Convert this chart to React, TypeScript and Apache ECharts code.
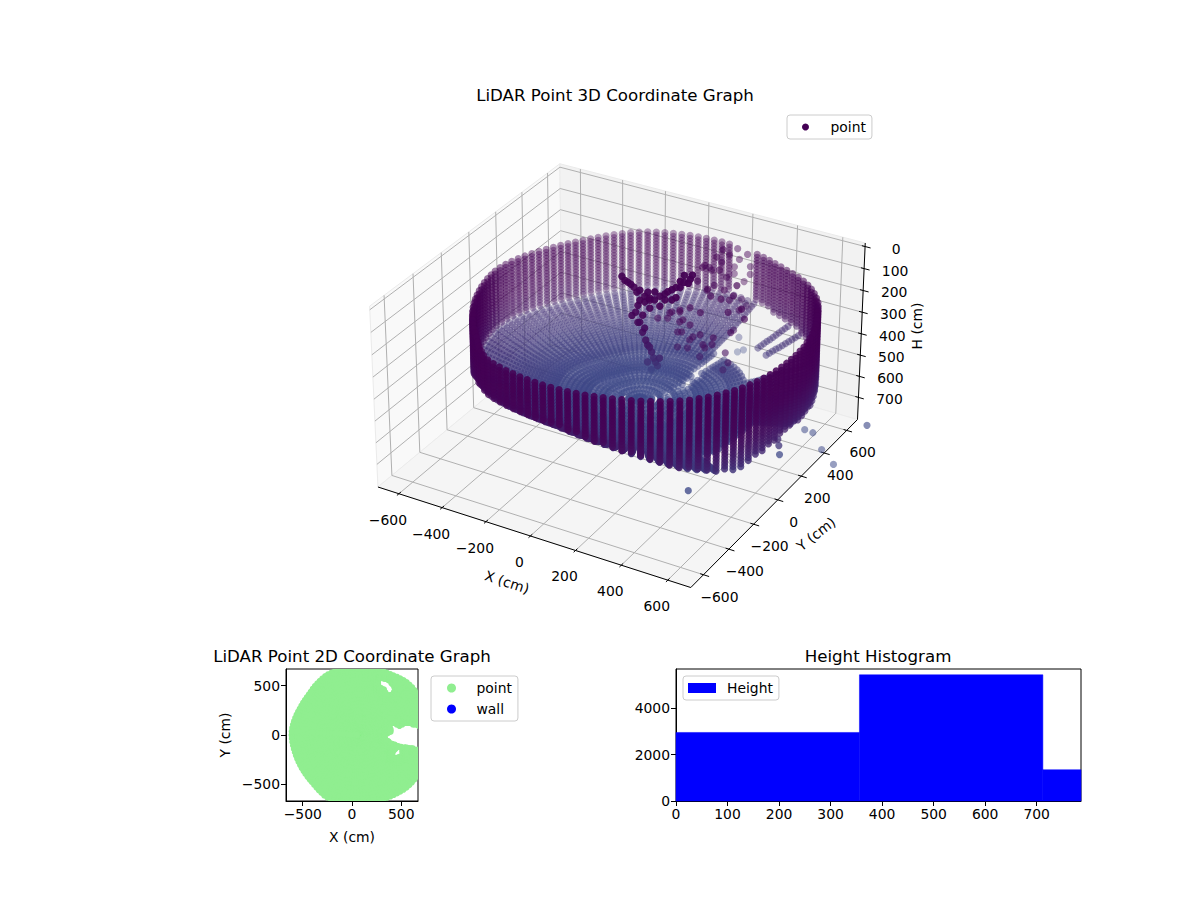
import { useEffect, useRef } from "react"
import * as echarts from "echarts"

const FONT = "DejaVu Sans"

const axisTicks3D = [-600, -400, -200, 0, 200, 400, 600]
const heightTicks = [0, 100, 200, 300, 400, 500, 600, 700]
const ticks2D = [-500, 0, 500]
const histXTicks = [0, 100, 200, 300, 400, 500, 600, 700]
const histYTicks = [0, 2000, 4000]

// histogram bins
const binStart = [0, 356, 712]
const binEnd = [356, 712, 786]
const binCount = [2950, 5430, 1345]

const columnAzimuth = [
  -180, -177, -174, -171, -168, -165, -162, -159, -156, -153,
  -150, -147, -144, -141, -138, -135, -132, -129, -126, -123,
  -120, -117, -114, -111, -108, -105, -102, -99, -96, -93,
  -90, -87, -84, -81, -78, -75, -72, -69, -66, -63,
  -60, -57, -54, -51, -48, -45, -42, -39, -36, -33,
  -30, -27, -24, -21, -18, -15, -12, -9, -6, -3,
  0, 3, 6, 9, 12, 15, 18, 21, 24, 27,
  30, 33, 36, 39, 42, 45, 48, 51, 54, 57,
  60, 63, 66, 69, 72, 75, 78, 81, 84, 87,
  90, 93, 96, 99, 102, 105, 108, 111, 114, 117,
  120, 123, 126, 129, 132, 135, 138, 141, 144, 147,
  150, 153, 156, 159, 162, 165, 168, 171, 174, 177,
]
const columnRadius = [
  686, 684, 682, 680, 678, 676, 675, 674, 673, 673,
  673, 673, 674, 675, 676, 678, 682, 688, 695, 702,
  710, 713, 711, 708, 705, 702, 700, 698, 696, 695,
  694, 693, 693, 693, 693, 693, 694, 696, 698, 701,
  704, 708, 712, 716, 719, 721, 722, 722, 722, 722,
  722, 720, 718, 716, 714, 712, 710, 708, 706, 705,
  705, 705, 706, 706, 707, 708, 709, 710, 711, 712,
  716, 720, 724, 725, 725, 724, 722, 718, 712, 706,
  700, 696, 693, 693, 693, 693, 693, 693, 693, 693,
  693, 693, 693, 693, 693, 693, 693, 693, 693, 693,
  690, 685, 680, 675, 670, 665, 660, 657, 656, 656,
  657, 658, 660, 664, 668, 672, 676, 680, 683, 685,
]
const columnBottom = [
  390, 390, 392, 392, 392, 392, 394, 394, 392, 392,
  392, 385, 375, 362, 350, 338, 325, 315, 305, 295,
  287, 286, 285, 284, 284, 284, 284, 285, 286, 288,
  290, 296, 303, 310, 318, 326, 335, 345, 355, 365,
  376, 388, 400, 412, 425, 437, 448, 458, 468, 476,
  484, 482, 475, 465, 456, 448, 440, 436, 434, 434,
  436, 438, 440, 444, 448, 452, 456, 460, 464, 468,
  470, 460, 445, 425, 405, 390, 380, 372, 366, 362,
  360, 358, 355, 352, 350, 347, 345, 344, 344, 350,
  356, 362, 368, 374, 380, 384, 386, 388, 390, 390,
  390, 390, 390, 390, 390, 390, 390, 390, 390, 390,
  390, 390, 390, 390, 390, 390, 390, 390, 390, 390,
]
const missingColumns = [78, 81, 84]

const wallLevels = [130, 144, 158, 172, 186, 200, 214, 228, 242, 256, 270, 284, 298, 312, 326, 340, 354, 368, 382, 396, 410, 424, 438, 452, 466, 480, 494]

const floorCenterH = 530
const ringFraction = [0.03, 0.07, 0.12, 0.16, 0.2, 0.23, 0.26, 0.29, 0.32, 0.35, 0.38, 0.41, 0.44, 0.47, 0.5, 0.52, 0.54, 0.56, 0.58, 0.6, 0.62, 0.64, 0.66, 0.68, 0.7, 0.72, 0.74, 0.76, 0.78, 0.8, 0.82, 0.84, 0.86, 0.88, 0.9, 0.92, 0.94, 0.96, 0.98]
const ringRise = [0, 0, 0.01, 0.02, 0.03, 0.04, 0.05, 0.06, 0.07, 0.09, 0.1, 0.12, 0.14, 0.16, 0.19, 0.21, 0.23, 0.25, 0.27, 0.3, 0.33, 0.35, 0.38, 0.41, 0.44, 0.47, 0.5, 0.54, 0.57, 0.61, 0.65, 0.69, 0.72, 0.76, 0.8, 0.84, 0.88, 0.92, 0.96]
const ringColumnStep = [8, 5, 3, 3, 2, 2, 2, 2, 1, 1, 1, 1, 1, 1, 1, 1, 1, 1, 1, 1, 1, 1, 1, 1, 1, 1, 1, 1, 1, 1, 1, 1, 1, 1, 1, 1, 1, 1, 1]

// floor sectors without returns: azimuth from, azimuth to, radius from, radius to
const floorGaps = [
  [40, 48, 0.62, 1],
  [51, 51, 0.62, 0.76],
  [54, 54, 0.62, 1],
  [57, 57, 0.62, 0.76],
  [60, 72, 0.62, 1],
  [45, 45, 0.15, 0.24],
  [54, 57, 0.22, 0.32],
  [60, 63, 0.3, 0.42],
  [66, 69, 0.4, 0.62],
  [-33, -3, 0.75, 1],
]

// the object standing in the room [x, y, H]
const treePoints = [
  [-116, 200, 122], [-89, 200, 141], [-61, 200, 156], [-34, 200, 162], [-12, 200, 183], [-34, 200, 208],
  [11, 200, 186], [56, 200, 164], [92, 200, 134], [128, 200, 105], [164, 200, 72], [191, 200, 50],
  [164, 200, 40], [128, 200, 151], [79, 200, 175], [11, 200, 232], [-21, 200, 273], [-53, 200, 268],
  [-34, 200, 309], [-12, 200, 330], [-7, 200, 384], [2, 200, 404], [20, 200, 431], [38, 200, 472],
  [20, 200, 514], [56, 200, 449],
  [-102, 200, 136], [-75, 200, 147], [-48, 200, 175], [-12, 200, 210], [33, 200, 188], [33, 200, 151],
  [2, 200, 161], [79, 200, 148], [110, 200, 120], [146, 200, 100], [182, 200, 71], [200, 200, 29],
  [146, 200, 72], [110, 200, 166], [56, 200, 210], [11, 200, 195], [-43, 200, 234], [-70, 200, 288],
  [-43, 200, 312], [-21, 200, 351], [11, 200, 411], [29, 200, 456], [2, 200, 483], [47, 200, 487],
]
const clutterPoints = [
  [110, 200, 221], [146, 200, 210], [191, 200, 179], [237, 200, 289], [191, 200, 326], [146, 200, 256],
  [92, 200, 254], [155, 200, 299], [259, 200, 343], [291, 200, 319],
  [145, 400, 95], [176, 400, 109], [221, 400, 60], [190, 400, 174], [235, 400, 184], [258, 400, 223],
  [158, 400, 206], [303, 400, 256], [280, 400, 355],
  [186, 600, 102], [231, 600, 116], [245, 600, 168], [245, 600, 204], [218, 600, 245], [173, 600, 189],
  [173, 600, 221], [150, 600, 140], [195, 600, 149], [209, 600, 330], [231, 600, 355], [200, 600, 511],
  [195, 600, 582], [222, 600, 564],
  [47, 200, 267], [101, 200, 228], [146, 200, 201], [160, 200, 243], [192, 200, 257], [237, 200, 188],
  [137, 200, 305], [205, 200, 308], [250, 200, 331], [296, 200, 286], [372, 200, 240], [359, 200, 152],
  [327, 200, 102], [381, 200, 72], [282, 200, 101], [268, 200, 73], [223, 200, 49], [136, 400, 108],
  [167, 400, 99], [212, 400, 98], [244, 400, 122], [199, 400, 43], [226, 400, 2], [182, 200, 365],
  [137, 200, 374], [350, 200, 339], [363, 200, 381], [341, 200, 420], [237, 200, 390], [418, 200, 121],
  [431, 200, 163], [395, 200, 22],
]
const strayPoints = [
  [520, -400, 597], [657, 300, 655], [693, 300, 658], [734, 300, 724], [788, 300, 777], [925, 300, 552],
  [746, -100, 485], [750, -100, 525], [741, -100, 458],
]

// top view
const scanCenterX = 72
const footprintFraction = [0.03, 0.08, 0.13, 0.18, 0.23, 0.28, 0.33, 0.38, 0.43, 0.48, 0.53, 0.58, 0.63, 0.68, 0.73, 0.78, 0.83, 0.88, 0.93, 0.97, 1]
const footprintHoles = [
  [[362, -17], [430, 0], [420, 91], [481, 51], [565, 91], [690, 51], [690, -119], [616, -102], [481, -85], [379, -34]],
  [[295, 542], [362, 525], [402, 457], [379, 434], [345, 491], [305, 508]],
  [[474, -152], [481, -186], [440, -203], [447, -180]],
]
const DOT_RADIUS_CM = 30
const HOLE_MARGIN_CM = 90
const HOLE_FILL_STEP_CM = 15

// box of the 3D view in data units
const BOX = 698
const H_TOP = -16
const H_FLOOR = 806
const WALL_SCALE = 0.96
const WALL_CENTER_X = 80

function project(x: number, y: number, h: number) {
  const nx = x * 0.000819
  const ny = y * 0.000819
  const nz = (395 - h) * 0.000803
  const xv = 0.866 * nx + 0.5 * ny
  const yv = -0.25 * nx + 0.433 * ny + 0.866 * nz
  const zv = 0.433 * nx - 0.75 * ny + 0.5 * nz
  const depth = 10 - zv
  return { px: 622 + (3120 * xv) / depth, py: 364.8 - (3125 * yv) / depth, depth }
}

const at = (x: number, y: number, h: number) => {
  const p = project(x, y, h)
  return [p.px, p.py]
}

function mix(h: number, depth: number, curve: number) {
  const t = Math.max(0, Math.min(1, (h - 130) / 400)) ** curve
  const r = Math.round(68 + (62 - 68) * t)
  const g = Math.round(1 + (74 - 1) * t)
  const b = Math.round(84 + (137 - 84) * t)
  const a = 0.3 + 0.58 * Math.max(0, Math.min(1, (10.45 - depth) / 0.95))
  return `rgba(${r},${g},${b},${a.toFixed(3)})`
}

function buildCloud() {
  const raw: number[][] = []
  columnAzimuth.forEach((az, i) => {
    const rad = (az * Math.PI) / 180
    const c = Math.cos(rad)
    const s = Math.sin(rad)
    const r = columnRadius[i] * WALL_SCALE
    const bottom = columnBottom[i]
    if (!missingColumns.includes(az)) {
      wallLevels.forEach((h) => {
        if (h <= bottom) raw.push([WALL_CENTER_X + r * c, r * s, h, 3])
      })
    }
    ringFraction.forEach((f, j) => {
      if (i % ringColumnStep[j] !== 0) return
      if (floorGaps.some((g) => az >= g[0] && az <= g[1] && f >= g[2] && f <= g[3])) return
      raw.push([WALL_CENTER_X + f * r * c, f * r * s, floorCenterH + (bottom - floorCenterH) * ringRise[j], 1.3])
    })
  })
  for (let k = 0; k < 3; k++) treePoints.forEach((p) => raw.push([...p, 3]))
  clutterPoints.forEach((p) => raw.push([...p, 3]))
  strayPoints.forEach((p) => raw.push([...p, 3]))
  return raw
    .map((p) => ({ p, q: project(p[0], p[1], p[2]) }))
    .sort((a, b) => b.q.depth - a.q.depth)
    .map(({ p, q }) => ({ value: [q.px, q.py], itemStyle: { color: mix(p[2], q.depth, p[3]), opacity: 1 } }))
}

function inPolygon(x: number, y: number, poly: number[][]) {
  let inside = false
  for (let i = 0, j = poly.length - 1; i < poly.length; j = i++) {
    const [xi, yi] = poly[i]
    const [xj, yj] = poly[j]
    if (yi > y !== yj > y && x < ((xj - xi) * (y - yi)) / (yj - yi) + xi) inside = !inside
  }
  return inside
}

function edgeDistance(x: number, y: number, poly: number[][]) {
  let best = Infinity
  for (let i = 0, j = poly.length - 1; i < poly.length; j = i++) {
    const [ax, ay] = poly[j]
    const [bx, by] = poly[i]
    const dx = bx - ax
    const dy = by - ay
    const t = Math.max(0, Math.min(1, ((x - ax) * dx + (y - ay) * dy) / (dx * dx + dy * dy)))
    best = Math.min(best, Math.hypot(x - ax - t * dx, y - ay - t * dy))
  }
  return best
}

const blockedByHole = (x: number, y: number) =>
  footprintHoles.some((h) => inPolygon(x, y, h) || edgeDistance(x, y, h) < DOT_RADIUS_CM)

function buildFootprint() {
  const out: number[][] = []
  columnAzimuth.forEach((az, i) => {
    const rad = (az * Math.PI) / 180
    footprintFraction.forEach((f) => {
      const x = scanCenterX + f * columnRadius[i] * Math.cos(rad)
      const y = f * columnRadius[i] * Math.sin(rad)
      if (!blockedByHole(x, y)) out.push([x, y])
    })
  })
  // the scan is much finer than the lattice above; it only shows round the holes
  footprintHoles.forEach((hole) => {
    const xs = hole.map((p) => p[0])
    const ys = hole.map((p) => p[1])
    for (let x = Math.min(...xs) - HOLE_MARGIN_CM; x <= Math.max(...xs) + HOLE_MARGIN_CM; x += HOLE_FILL_STEP_CM) {
      for (let y = Math.min(...ys) - HOLE_MARGIN_CM; y <= Math.max(...ys) + HOLE_MARGIN_CM; y += HOLE_FILL_STEP_CM) {
        if (!blockedByHole(x, y) && edgeDistance(x, y, hole) < HOLE_MARGIN_CM && Math.hypot(x - scanCenterX, y) < 690) {
          out.push([x, y])
        }
      }
    }
  })
  return out
}

function frame3D() {
  const panes = [
    [[-BOX, -BOX, H_FLOOR], [-BOX, BOX, H_FLOOR], [-BOX, BOX, H_TOP], [-BOX, -BOX, H_TOP]],
    [[-BOX, BOX, H_FLOOR], [BOX, BOX, H_FLOOR], [BOX, BOX, H_TOP], [-BOX, BOX, H_TOP]],
    [[-BOX, -BOX, H_FLOOR], [BOX, -BOX, H_FLOOR], [BOX, BOX, H_FLOOR], [-BOX, BOX, H_FLOOR]],
  ].map((pane) => pane.map((p) => at(p[0], p[1], p[2])))
  const grid: number[][] = []
  const seg = (a: number[], b: number[]) => grid.push([...at(a[0], a[1], a[2]), ...at(b[0], b[1], b[2])])
  axisTicks3D.forEach((t) => {
    seg([t, -BOX, H_FLOOR], [t, BOX, H_FLOOR])
    seg([t, BOX, H_FLOOR], [t, BOX, H_TOP])
    seg([-BOX, t, H_FLOOR], [BOX, t, H_FLOOR])
    seg([-BOX, t, H_FLOOR], [-BOX, t, H_TOP])
  })
  heightTicks.forEach((t) => {
    seg([-BOX, -BOX, t], [-BOX, BOX, t])
    seg([-BOX, BOX, t], [BOX, BOX, t])
  })
  const ink: number[][] = []
  const inkSeg = (a: number[], b: number[]) => ink.push([...at(a[0], a[1], a[2]), ...at(b[0], b[1], b[2])])
  inkSeg([-BOX, -BOX, H_FLOOR], [BOX, -BOX, H_FLOOR])
  inkSeg([BOX, -BOX, H_FLOOR], [BOX, BOX, H_FLOOR])
  inkSeg([BOX, BOX, H_FLOOR], [BOX, BOX, H_TOP])
  axisTicks3D.forEach((t) => {
    inkSeg([t, -BOX - 14, H_FLOOR], [t, -BOX + 14, H_FLOOR])
    inkSeg([BOX - 14, t, H_FLOOR], [BOX + 24, t, H_FLOOR])
  })
  heightTicks.forEach((t) => inkSeg([BOX - 14, BOX, t], [BOX + 24, BOX, t]))
  return { panes, grid, ink }
}

const minus = (v: number) => String(v).replace("-", "\u2212")

function labels3D() {
  const font = `13.9px "${FONT}"`
  const text = (s: string, x: number, y: number, rotation = 0) => ({
    type: "text",
    x,
    y,
    rotation,
    silent: true,
    z: 10,
    style: { text: s, font, fill: "#000", align: "center", verticalAlign: "middle" },
  })
  const out: any[] = []
  axisTicks3D.forEach((t) => {
    const a = at(t, -BOX, H_FLOOR)
    out.push(text(minus(t), a[0] - 11, a[1] + 26))
    const b = at(BOX, t, H_FLOOR)
    out.push(text(minus(t), b[0] + 16, b[1] + 22))
  })
  heightTicks.forEach((t) => {
    const a = at(BOX, BOX, t)
    out.push(text(String(t), a[0] + 31, a[1] + 2))
  })
  out.push(text("X (cm)", 507, 582, (-18 * Math.PI) / 180))
  out.push(text("Y (cm)", 816, 534, (38 * Math.PI) / 180))
  out.push(text("H (cm)", 917, 326, Math.PI / 2))
  return out
}

const legendBase = {
  orient: "vertical" as const,
  selectedMode: false,
  backgroundColor: "rgba(255,255,255,0.8)",
  borderColor: "#cccccc",
  borderWidth: 1,
  borderRadius: 3,
  itemWidth: 28,
  textStyle: { fontFamily: FONT, fontSize: 13.9, color: "#000", padding: [0, 0, 0, 6] },
}

const boxAxis = (min: number, max: number, ticks: number[], gridIndex: number, name?: string, nameGap?: number) => ({
  type: "value" as const,
  gridIndex,
  min,
  max,
  name,
  nameLocation: "middle" as const,
  nameGap,
  nameTextStyle: { fontFamily: FONT, fontSize: 13.9, color: "#000" },
  splitLine: { show: false },
  axisLine: { show: true, onZero: false, lineStyle: { color: "#000", width: 1 } },
  axisTick: { show: true, length: 5, lineStyle: { color: "#000" }, customValues: ticks },
  axisLabel: {
    show: true,
    margin: 6,
    fontFamily: FONT,
    fontSize: 13.9,
    color: "#000",
    customValues: ticks,
    formatter: (v: number) => minus(v),
  },
})

const titleStyle = { fontFamily: FONT, fontSize: 16.67, fontWeight: "normal" as const, color: "#000" }

export default function App() {
  const chartRef = useRef<HTMLDivElement>(null)

  useEffect(() => {
    if (!chartRef.current) return
    const chart = echarts.init(chartRef.current, undefined, { renderer: "svg" })
    const { panes, grid, ink } = frame3D()
    const paneColors = ["#f9f9f9", "#f2f2f2", "#f5f5f5"]
    const footprint = buildFootprint()

    chart.setOption({
      animation: false,
      backgroundColor: "#fff",
      title: [
        { text: "LiDAR Point 3D Coordinate Graph", left: 610, top: 82, textAlign: "center", textStyle: titleStyle },
        { text: "LiDAR Point 2D Coordinate Graph", left: 347, top: 643, textAlign: "center", textStyle: titleStyle },
        { text: "Height Histogram", left: 873, top: 643, textAlign: "center", textStyle: titleStyle },
      ],
      legend: [
        {
          ...legendBase,
          left: 787,
          top: 115,
          padding: [5, 6, 5, 15],
          itemHeight: 7,
          data: [{ name: "point", icon: "circle", itemStyle: { color: "#440154", opacity: 1 } }],
        },
        {
          ...legendBase,
          left: 431,
          top: 676,
          padding: [5, 6, 5, 16],
          itemGap: 7,
          itemHeight: 9,
          data: [
            { name: "point", icon: "circle", itemStyle: { color: "#90ee90", opacity: 1 } },
            { name: "wall", icon: "circle", itemStyle: { color: "#0000ff", opacity: 1 } },
          ],
        },
        {
          ...legendBase,
          left: 683,
          top: 676,
          padding: [5, 6, 5, 5],
          itemHeight: 10,
          data: [{ name: "Height", icon: "rect", itemStyle: { color: "#0000ff", opacity: 1 } }],
        },
      ],
      grid: [
        { left: 0, top: 0, width: 1200, height: 900, show: false },
        { left: 286, top: 669, width: 132, height: 132, show: true, borderColor: "#000", borderWidth: 1, backgroundColor: "#fff" },
        { left: 676, top: 669, width: 405, height: 132, show: true, borderColor: "#000", borderWidth: 1, backgroundColor: "#fff" },
      ],
      xAxis: [
        { type: "value", gridIndex: 0, min: 0, max: 1200, show: false },
        boxAxis(-670, 670, ticks2D, 1, "X (cm)", 29),
        boxAxis(0, 786, histXTicks, 2),
      ],
      yAxis: [
        { type: "value", gridIndex: 0, min: 0, max: 900, inverse: true, show: false },
        boxAxis(-670, 670, ticks2D, 1, "Y (cm)", 54),
        boxAxis(0, 5680, histYTicks, 2),
      ],
      graphic: labels3D(),
      series: [
        {
          type: "custom",
          name: "panes",
          xAxisIndex: 0,
          yAxisIndex: 0,
          silent: true,
          clip: false,
          z: 1,
          data: panes.map((_, i) => [i, i]),
          renderItem: (params: any, api: any) => ({
            type: "polygon",
            shape: { points: panes[params.dataIndex].map((p) => api.coord(p)) },
            style: { fill: paneColors[params.dataIndex], stroke: "#ebebeb", lineWidth: 1 },
          }),
        },
        {
          type: "custom",
          name: "grid3d",
          xAxisIndex: 0,
          yAxisIndex: 0,
          silent: true,
          clip: false,
          z: 2,
          data: grid,
          renderItem: (_: any, api: any) => {
            const a = api.coord([api.value(0), api.value(1)])
            const b = api.coord([api.value(2), api.value(3)])
            return {
              type: "line",
              shape: { x1: a[0], y1: a[1], x2: b[0], y2: b[1] },
              style: { stroke: "#b0b0b0", lineWidth: 1 },
            }
          },
        },
        {
          type: "custom",
          name: "axes3d",
          xAxisIndex: 0,
          yAxisIndex: 0,
          silent: true,
          clip: false,
          z: 3,
          data: ink,
          renderItem: (_: any, api: any) => {
            const a = api.coord([api.value(0), api.value(1)])
            const b = api.coord([api.value(2), api.value(3)])
            return {
              type: "line",
              shape: { x1: a[0], y1: a[1], x2: b[0], y2: b[1] },
              style: { stroke: "#000", lineWidth: 1 },
            }
          },
        },
        {
          type: "scatter",
          name: "point",
          xAxisIndex: 0,
          yAxisIndex: 0,
          silent: true,
          clip: false,
          progressive: 0,
          z: 4,
          symbolSize: 7.2,
          itemStyle: { color: "#440154", opacity: 1 },
          data: buildCloud(),
        },
        {
          type: "custom",
          name: "point",
          xAxisIndex: 1,
          yAxisIndex: 1,
          silent: true,
          clip: true,
          progressive: 0,
          z: 4,
          itemStyle: { color: "#90ee90" },
          data: footprint,
          renderItem: (_: any, api: any) => {
            const c = api.coord([api.value(0), api.value(1)])
            return { type: "circle", shape: { cx: c[0], cy: c[1], r: 3 }, style: { fill: "#90ee90" } }
          },
        },
        {
          type: "scatter",
          name: "wall",
          xAxisIndex: 1,
          yAxisIndex: 1,
          silent: true,
          itemStyle: { color: "#0000ff" },
          data: [],
        },
        {
          type: "custom",
          name: "Height",
          xAxisIndex: 2,
          yAxisIndex: 2,
          silent: true,
          itemStyle: { color: "#0000ff" },
          encode: { x: [0, 1], y: 2 },
          data: binCount.map((c, i) => [binStart[i], binEnd[i], c]),
          renderItem: (_: any, api: any) => {
            const a = api.coord([api.value(0), api.value(2)])
            const b = api.coord([api.value(1), 0])
            return {
              type: "rect",
              shape: { x: a[0], y: a[1], width: b[0] - a[0], height: b[1] - a[1] },
              style: { fill: "#0000ff", stroke: "#0000ff", lineWidth: 0.5 },
            }
          },
        },
      ],
    })

    return () => chart.dispose()
  }, [])

  return <div ref={chartRef} style={{ position: "absolute", left: 0, top: 0, width: 1200, height: 900 }} />
}
